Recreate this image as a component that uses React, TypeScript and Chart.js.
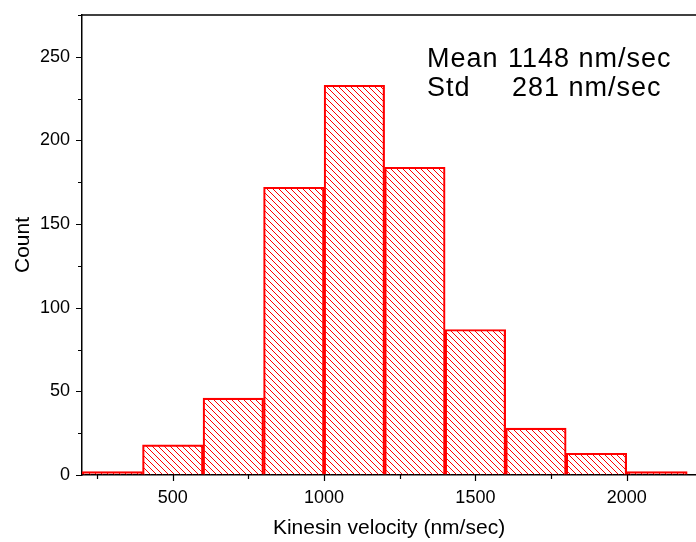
import React, { useEffect, useRef } from "react";
import { Chart, registerables } from "chart.js";
Chart.register(...registerables);

const binStarts = [200, 400, 600, 800, 1000, 1200, 1400, 1600, 1800, 2000];
const binWidth = 200;
const counts = [2, 18, 46, 172, 233, 184, 87, 28, 13, 2];
const xMajorTicks = [500, 1000, 1500, 2000];
const xMinorTicks = [250, 750, 1250, 1750];
const yMajorTicks = [0, 50, 100, 150, 200, 250];
const yMinorTicks = [25, 75, 125, 175, 225, 275];
const xLabel = "Kinesin velocity (nm/sec)";
const yLabel = "Count";
const statNames = ["Mean", "Std"];
const statValues = ["1148 nm/sec", "281 nm/sec"];

const FONT = "'Liberation Sans', Arial, Helvetica, sans-serif";

function makeHatch(): CanvasPattern | string {
  const s = 6;
  const c = document.createElement("canvas");
  c.width = s;
  c.height = s;
  const g = c.getContext("2d");
  if (!g) return "rgba(255,0,0,0.3)";
  g.strokeStyle = "#ff0000";
  g.lineWidth = 1;
  g.beginPath();
  g.moveTo(0, 0);
  g.lineTo(s, s);
  g.moveTo(-1, s - 1);
  g.lineTo(1, s + 1);
  g.moveTo(s - 1, -1);
  g.lineTo(s + 1, 1);
  g.stroke();
  return g.createPattern(c, "repeat") || "rgba(255,0,0,0.3)";
}

const framePlugin = {
  id: "frameTicks",
  afterDraw(chart: any) {
    const { ctx, chartArea, scales } = chart;
    const { left, right, top, bottom } = chartArea;
    const x = scales.x;
    const y = scales.y;
    ctx.save();
    ctx.strokeStyle = "#000";
    ctx.lineWidth = 1.5;
    ctx.beginPath();
    ctx.moveTo(left - 1, top);
    ctx.lineTo(right, top);
    ctx.stroke();
    ctx.lineWidth = 1.2;
    ctx.beginPath();
    xMajorTicks.forEach((v) => {
      const p = Math.round(x.getPixelForValue(v)) + 0.5;
      ctx.moveTo(p, bottom);
      ctx.lineTo(p, bottom + 6);
    });
    xMinorTicks.forEach((v) => {
      const p = Math.round(x.getPixelForValue(v)) + 0.5;
      ctx.moveTo(p, bottom);
      ctx.lineTo(p, bottom + 4);
    });
    yMajorTicks.forEach((v) => {
      const p = Math.round(y.getPixelForValue(v)) + 0.5;
      ctx.moveTo(left, p);
      ctx.lineTo(left - 6, p);
    });
    yMinorTicks.forEach((v) => {
      const p = Math.round(y.getPixelForValue(v)) + 0.5;
      ctx.moveTo(left, p);
      ctx.lineTo(left - 4, p);
    });
    ctx.stroke();

    // statistics annotation
    ctx.fillStyle = "#000";
    ctx.font = `27px ${FONT}`;
    (ctx as any).letterSpacing = "1px";
    ctx.textAlign = "left";
    ctx.textBaseline = "alphabetic";
    const nameX = 427;
    const valX = [508, 512];
    const baseY = [67, 96];
    statNames.forEach((n, i) => {
      ctx.fillText(n, nameX, baseY[i]);
      ctx.fillText(statValues[i], valX[i], baseY[i]);
    });
    (ctx as any).letterSpacing = "0px";
    ctx.restore();
  },
};

export default function App() {
  const ref = useRef<HTMLCanvasElement | null>(null);
  useEffect(() => {
    document.body.style.margin = "0";
    if (!ref.current) return;
    const hatch = makeHatch();
    const chart = new Chart(ref.current, {
      type: "bar",
      data: {
        datasets: [
          {
            data: binStarts.map((s, i) => ({ x: s + binWidth / 2, y: counts[i] })) as any,
            backgroundColor: hatch as any,
            borderColor: "#ff0000",
            borderWidth: 1.5,
            barPercentage: 1,
            categoryPercentage: 1,
          },
        ],
      },
      options: {
        animation: false,
        responsive: false,
        devicePixelRatio: 1,
        layout: { padding: { top: 15, right: 0, left: 0, bottom: 0 } },
        plugins: { legend: { display: false }, tooltip: { enabled: false } },
        scales: {
          x: {
            type: "linear",
            min: 200,
            max: 2229,
            offset: false,
            afterBuildTicks: (scale: any) => {
              scale.ticks = [...xMajorTicks, ...xMinorTicks]
                .sort((a, b) => a - b)
                .map((v) => ({ value: v }));
            },
            afterFit: (scale: any) => {
              scale.height = 67;
              scale.paddingLeft = 0;
              scale.paddingRight = 0;
            },
            ticks: {
              autoSkip: false,
              maxRotation: 0,
              padding: 12,
              color: "#000",
              font: { family: FONT, size: 18 },
              callback: (v: any) => (xMajorTicks.includes(Number(v)) ? String(v) : ""),
            },
            grid: { drawOnChartArea: false, drawTicks: false },
            border: { display: true, color: "#000", width: 1.5 },
            title: {
              display: true,
              text: xLabel,
              color: "#000",
              font: { family: FONT, size: 21 },
              padding: { top: 0, bottom: 1 },
            },
          },
          y: {
            type: "linear",
            min: 0,
            max: 275,
            afterBuildTicks: (scale: any) => {
              scale.ticks = [...yMajorTicks, ...yMinorTicks]
                .sort((a, b) => a - b)
                .map((v) => ({ value: v }));
            },
            afterFit: (scale: any) => {
              scale.width = 82;
              scale.paddingTop = 0;
              scale.paddingBottom = 0;
            },
            ticks: {
              autoSkip: false,
              padding: 12,
              color: "#000",
              font: { family: FONT, size: 18 },
              callback: (v: any) => (yMajorTicks.includes(Number(v)) ? String(v) : ""),
            },
            grid: { drawOnChartArea: false, drawTicks: false },
            border: { display: true, color: "#000", width: 1.5 },
            title: {
              display: true,
              text: yLabel,
              color: "#000",
              font: { family: FONT, size: 21 },
              padding: { top: 11, bottom: 0 },
            },
          },
        },
      },
      plugins: [framePlugin],
    });
    return () => chart.destroy();
  }, []);
  return (
    <div style={{ width: 696, height: 542, background: "#fff" }}>
      <canvas ref={ref} width={696} height={542} style={{ display: "block" }} />
    </div>
  );
}
